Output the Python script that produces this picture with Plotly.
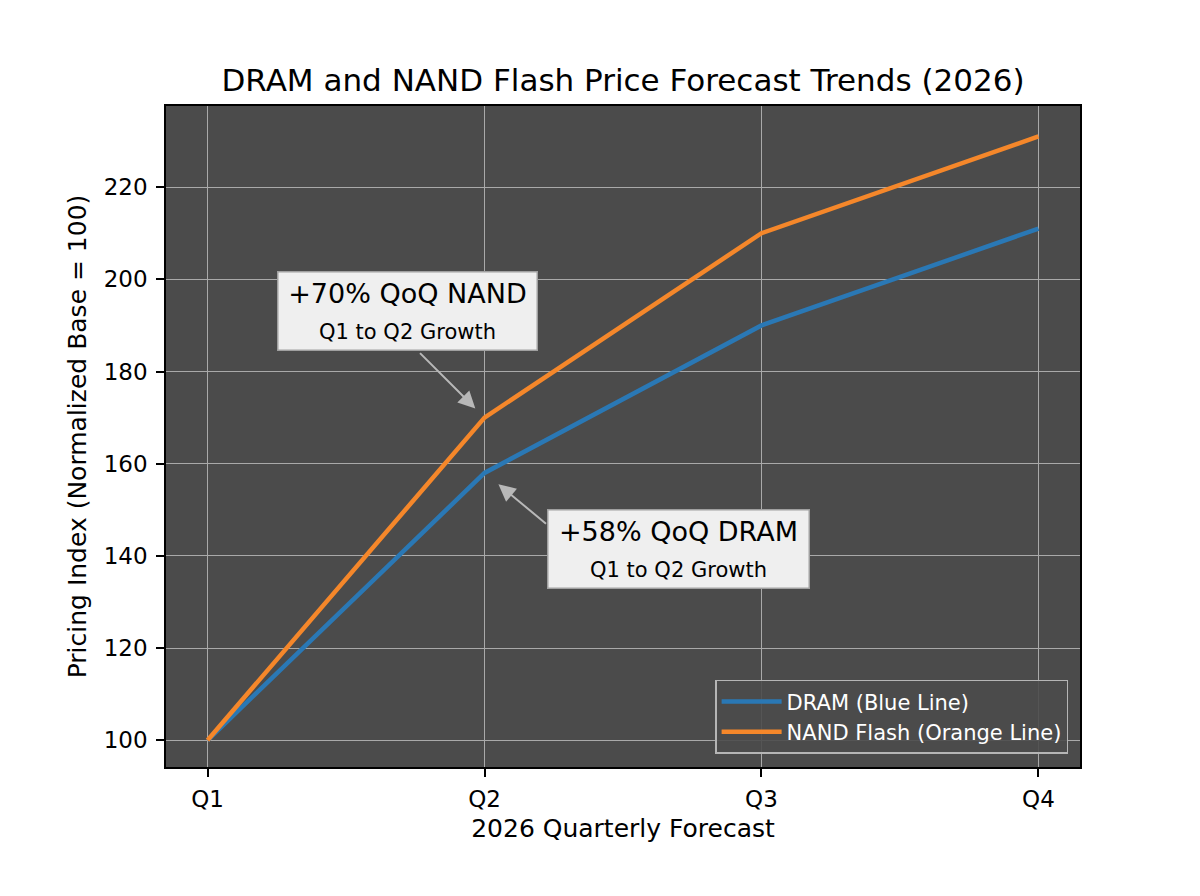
import plotly.graph_objects as go

quarters = ["Q1", "Q2", "Q3", "Q4"]
dram = [100, 158, 190, 211]
nand = [100, 170, 210, 231]
y_ticks = [100, 120, 140, 160, 180, 200, 220]

fig = go.Figure()
fig.add_trace(go.Scatter(x=[0, 1, 2, 3], y=dram, mode="lines", name="DRAM (Blue Line)",
                         line=dict(color="#2a78b5", width=4.5)))
fig.add_trace(go.Scatter(x=[0, 1, 2, 3], y=nand, mode="lines", name="NAND Flash (Orange Line)",
                         line=dict(color="#f5872a", width=4.5)))

font = "DejaVu Sans, sans-serif"
fig.update_layout(
    width=1200, height=896,
    margin=dict(l=166, r=120, t=106, b=129),
    paper_bgcolor="white", plot_bgcolor="#4b4b4b",
    font=dict(family=font, color="black"),
    title=dict(text="DRAM and NAND Flash Price Forecast Trends (2026)", x=(166 + 457) / 1200, xanchor="center",
               y=1 - 80 / 896, yanchor="middle", font=dict(size=31, color="black")),
    xaxis=dict(range=[-0.15, 3.15], tickvals=[0, 1, 2, 3], ticktext=quarters,
               showgrid=True, gridcolor="#a9a9a9", gridwidth=1, zeroline=False,
               showline=True, linecolor="black", linewidth=1.5, mirror=True,
               ticks="outside", ticklen=8, tickcolor="black", tickwidth=1.5, ticklabelstandoff=3,
               tickfont=dict(size=23), title=dict(text="2026 Quarterly Forecast", font=dict(size=25), standoff=8)),
    yaxis=dict(range=[94.2, 237.6], tickvals=y_ticks,
               showgrid=True, gridcolor="#a9a9a9", gridwidth=1, zeroline=False,
               showline=True, linecolor="black", linewidth=1.5, mirror=True,
               ticks="outside", ticklen=8, tickcolor="black", tickwidth=1.5, ticklabelstandoff=4,
               tickfont=dict(size=23), title=dict(text="Pricing Index (Normalized Base = 100)", font=dict(size=25), standoff=10)),
    legend=dict(x=0.987, y=0.02, xanchor="right", yanchor="bottom",
                bgcolor="rgba(75,75,75,0.9)", bordercolor="#b5b5b5", borderwidth=1.5,
                font=dict(size=21, color="white"), itemwidth=60),
    showlegend=True,
)

# arrows
fig.add_annotation(x=1, y=nand[1], ax=-66, ay=-66, text="", showarrow=True,
                   arrowhead=2, arrowsize=1.7, arrowwidth=2, arrowcolor="#b8b8b8", standoff=13)
fig.add_annotation(x=1, y=dram[1], ax=63, ay=52, text="", showarrow=True,
                   arrowhead=2, arrowsize=1.7, arrowwidth=2, arrowcolor="#b8b8b8", standoff=18)

# boxes
fig.add_annotation(x=0.7236, y=193.2, xref="x", yref="y", showarrow=False,
                   text="+70% QoQ NAND<br><span style='font-size:21px'>Q1 to Q2 Growth</span>",
                   font=dict(size=27, color="black"), bgcolor="#efefef", bordercolor="#a0a0a0",
                   borderwidth=1.5, width=256, height=75, align="center")
fig.add_annotation(x=1.700, y=141.4, xref="x", yref="y", showarrow=False,
                   text="+58% QoQ DRAM<br><span style='font-size:21px'>Q1 to Q2 Growth</span>",
                   font=dict(size=27, color="black"), bgcolor="#efefef", bordercolor="#a0a0a0",
                   borderwidth=1.5, width=258, height=75, align="center")

fig.write_html("out.html")
